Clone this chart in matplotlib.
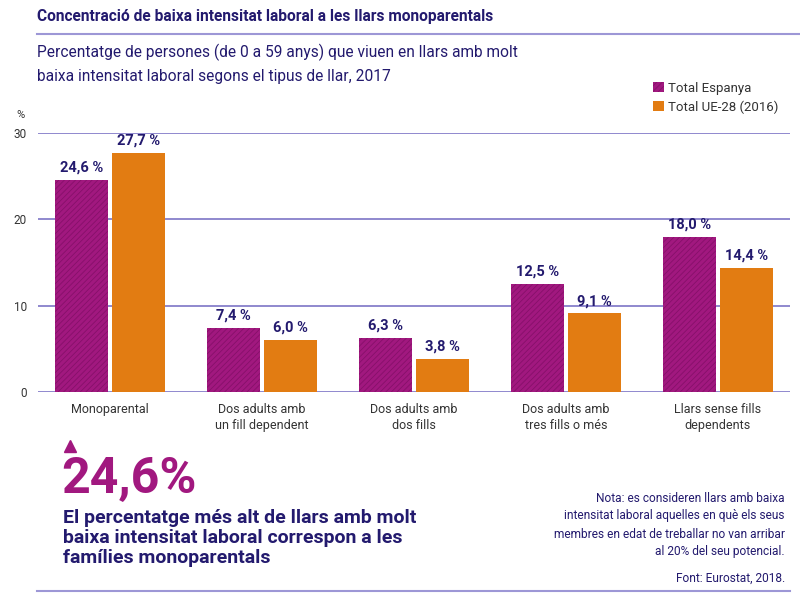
import numpy as np
import matplotlib
matplotlib.use('Agg')
import matplotlib.pyplot as plt
from matplotlib.lines import Line2D
from matplotlib.patches import Patch

# Dades
categories = ['Monoparental', 'Dos adults amb\nun fill dependent', 'Dos adults amb\ndos fills',
              'Dos adults amb\ntres fills o més', 'Llars sense fills\ndependents']
espanya = [24.6, 7.4, 6.3, 12.5, 18.0]
ue28 = [27.7, 6.0, 3.8, 9.1, 14.4]
yticks = [0, 10, 20, 30]

navy = '#231a6e'
purple = '#a1187f'
orange = '#e27c12'
grid_col = '#7d74c6'
reg = ['Roboto', 'DejaVu Sans']

fig = plt.figure(figsize=(8, 5.94), dpi=100)
W, H = 800, 594

def fx(px):
    return px / W

def fy(py):
    return 1 - py / H

ax = fig.add_axes([fx(38), fy(392), fx(790) - fx(38), fy(133) - fy(392)])
x = np.arange(len(categories))
w = 0.349
off = 0.1875
plt.rcParams['hatch.linewidth'] = 0.6
ax.bar(x - off, espanya, w, color=purple, edgecolor='#86106a', hatch='//////', linewidth=0, zorder=3)
ax.bar(x + off, ue28, w, color=orange, linewidth=0, zorder=3)

for i in range(len(x)):
    ax.text(x[i] - off, espanya[i] + 0.6, f'{espanya[i]:.1f} %'.replace('.', ','), ha='center', va='bottom',
            color=navy, fontsize=10.5, fontweight='bold', family=reg)
    ax.text(x[i] + off, ue28[i] + 0.6, f'{ue28[i]:.1f} %'.replace('.', ','), ha='center', va='bottom',
            color=navy, fontsize=10.5, fontweight='bold', family=reg)

ax.set_xlim(-0.474, 4.474)
ax.set_ylim(0, 30)
ax.set_yticks(yticks)
ax.set_yticklabels([str(t) for t in yticks], family=reg, fontsize=8.5, color='#333333')
ax.tick_params(axis='y', length=0, pad=8)
ax.set_xticks(x)
ax.set_xticklabels(categories, family=reg, fontsize=9, color='#333333', linespacing=1.25)
ax.tick_params(axis='x', length=0, pad=8)
for s in ax.spines.values():
    s.set_visible(False)
for t in yticks:
    ax.axhline(t, color=grid_col, linewidth=1.2, zorder=1)
fig.text(fx(16), fy(115), '%', fontsize=8, color='#333333', family=reg, va='center')

# Llegenda
leg = fig.legend(handles=[Patch(facecolor=purple, edgecolor='#86106a', hatch='//////', linewidth=0),
                          Patch(facecolor=orange)],
                 labels=['Total Espanya', 'Total UE-28 (2016)'],
                 loc='upper right', bbox_to_anchor=(fx(790), fy(70)), frameon=False,
                 handlelength=0.8, handleheight=0.8, handletextpad=0.3, labelspacing=0.4,
                 prop={'family': reg, 'size': 9.5})
for t in leg.get_texts():
    t.set_color('#333333')
leg._legend_box.align = 'right'

# Títols
fig.text(fx(37), fy(17), 'Concentració de baixa intensitat laboral a les llars monoparentals',
         fontsize=11.2, fontweight='bold', color=navy, family=reg, va='center')
fig.add_artist(Line2D([fx(37), 1], [fy(34), fy(34)], color='#9d97d6', linewidth=1.5))
fig.text(fx(37), fy(52), 'Percentatge de persones (de 0 a 59 anys) que viuen en llars amb molt',
         fontsize=11.2, color=navy, family=reg, va='center')
fig.text(fx(37), fy(76), 'baixa intensitat laboral segons el tipus de llar, 2017',
         fontsize=11.2, color=navy, family=reg, va='center')

# Destacat
fig.add_artist(Line2D([fx(70)], [fy(446)], marker='^', markersize=9, color=purple, linestyle='none'))
fig.text(fx(61), fy(479), '24,6%', fontsize=36, fontweight='bold', color=purple, family=reg, va='center')
fig.text(fx(63), fy(538), 'El percentatge més alt de llars amb molt\nbaixa intensitat laboral correspon a les\nfamílies monoparentals',
         fontsize=14, fontweight='bold', color=navy, family=reg, va='center', linespacing=1.15)

fig.text(fx(785), fy(525), 'Nota: es consideren llars amb baixa\nintensitat laboral aquelles en què els seus\nmembres en edat de treballar no van arribar\nal 20% del seu potencial.',
         fontsize=8.6, color=navy, family=reg, ha='right', va='center', linespacing=1.5)
fig.text(fx(785), fy(578), 'Font: Eurostat, 2018.', fontsize=8.6, color=navy, family=reg, ha='right', va='center')
fig.add_artist(Line2D([fx(37), fx(790)], [fy(591), fy(591)], color='#9d97d6', linewidth=1.5))

fig.savefig('out.png', dpi=100)
